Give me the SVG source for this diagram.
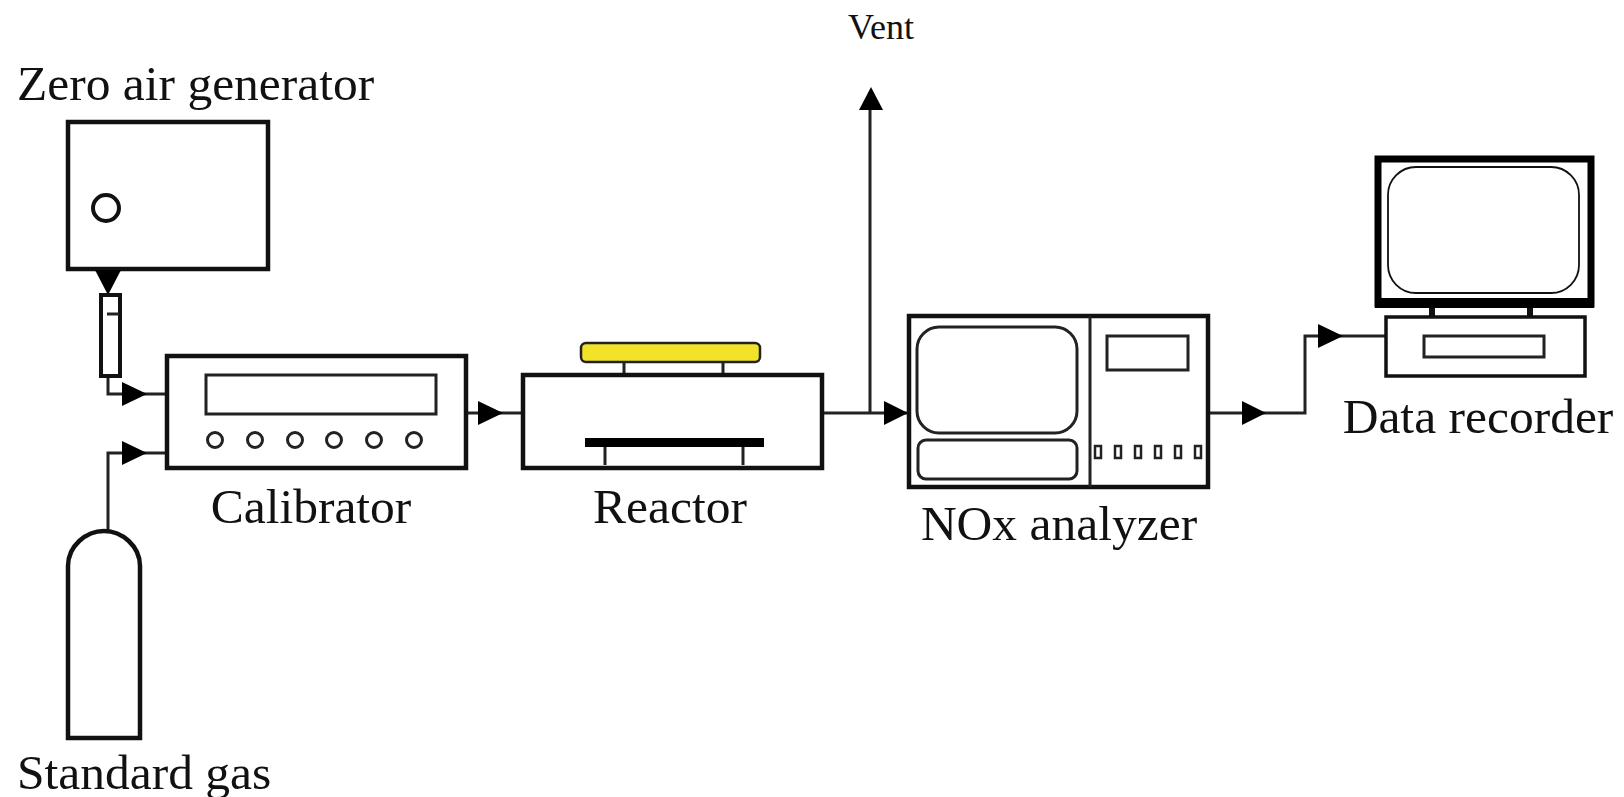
<svg xmlns="http://www.w3.org/2000/svg" width="1624" height="797" viewBox="0 0 1624 797">
<style>
.b{fill:#fff;stroke:#111;stroke-width:4.5}
.m{fill:#fff;stroke:#222;stroke-width:3}
.c{fill:none;stroke:#222;stroke-width:3}
.t{font-family:"Liberation Serif","Times New Roman",serif;fill:#111;font-size:49.5px}
</style>
<rect width="1624" height="797" fill="#fff"/>
<g id="connectors">
<path class="c" d="M108 376V394H167" />
<path class="c" d="M108 531V453H167"/>
<path class="c" d="M466 413H523"/>
<path class="c" d="M822 413H909"/>
<path class="c" d="M870 413V92"/>
<path class="c" d="M1208 413H1305V336H1386"/>
<path d="M122 382L147 394L122 406Z"/>
<path d="M122 441L147 453L122 465Z"/>
<path d="M478 401L503 413L478 425Z"/>
<path d="M884 401L908 413L884 425Z"/>
<path d="M859 110L871 87L883 110Z"/>
<path d="M1242 401L1266 413L1242 425Z"/>
<path d="M1318 324L1343 336L1318 348Z"/>
</g>
<g id="zero-air-generator">
<rect class="b" x="68" y="122" width="200" height="147"/>
<circle cx="106" cy="208" r="13" fill="#fff" stroke="#111" stroke-width="4"/>
<text class="t" x="17" y="100">Zero air generator</text>
</g>
<g id="flowmeter">
<path d="M95 270H121L108 295Z"/>
<rect class="b" x="101" y="295" width="19" height="81" style="stroke-width:4"/>
<path class="c" d="M107 314H119"/>
</g>
<g id="standard-gas">
<path class="b" d="M68 738V566C68 546 86 531 104 531C122 531 140 546 140 566V738Z"/>
<text class="t" x="17" y="789">Standard gas</text>
</g>
<g id="calibrator">
<rect class="b" x="167" y="356" width="299" height="112"/>
<rect class="m" x="206" y="375" width="230" height="39"/>
<g fill="#fff" stroke="#222" stroke-width="3">
<circle cx="215" cy="440" r="7.5"/><circle cx="255" cy="440" r="7.5"/><circle cx="295" cy="440" r="7.5"/><circle cx="334" cy="440" r="7.5"/><circle cx="374" cy="440" r="7.5"/><circle cx="414" cy="440" r="7.5"/>
</g>
<text class="t" x="311" y="523" text-anchor="middle">Calibrator</text>
</g>
<g id="reactor">
<path class="c" d="M624 362V375M723 362V375M605 447V465M743 447V465"/>
<rect x="581" y="343" width="179" height="19" rx="5" fill="#f2e32a" stroke="#222" stroke-width="2.5"/>
<rect class="b" x="523" y="375" width="299" height="93" style="fill:none"/>
<rect x="585" y="438" width="179" height="9" fill="#000"/>
<text class="t" x="670" y="523" text-anchor="middle">Reactor</text>
</g>
<g id="vent-label">
<text class="t" x="881" y="39" text-anchor="middle" style="font-size:36px">Vent</text>
</g>
<g id="nox-analyzer">
<rect class="b" x="909" y="316" width="299" height="171"/>
<path class="c" d="M1090 316V487"/>
<rect class="m" x="917" y="327" width="160" height="106" rx="22"/>
<rect class="m" x="918" y="440" width="159" height="39" rx="8"/>
<rect class="m" x="1107" y="336" width="81" height="34"/>
<g fill="#fff" stroke="#222" stroke-width="2.5">
<rect x="1095" y="446" width="6" height="12"/><rect x="1115" y="446" width="6" height="12"/><rect x="1135" y="446" width="6" height="12"/><rect x="1155" y="446" width="6" height="12"/><rect x="1175" y="446" width="6" height="12"/><rect x="1195" y="446" width="6" height="12"/>
</g>
<text class="t" x="1059" y="540" text-anchor="middle">NOx analyzer</text>
</g>
<g id="data-recorder">
<path d="M1429 306h6v11h-6zM1527 306h6v11h-6z" fill="#111"/>
<rect x="1378" y="159" width="213" height="145" fill="#fff" stroke="#000" stroke-width="7"/>
<rect x="1375" y="298" width="219" height="10" fill="#000"/>
<rect x="1388" y="167" width="191" height="126" rx="28" fill="#fff" stroke="#111" stroke-width="1.8"/>
<rect class="b" x="1386" y="317" width="199" height="59" style="stroke-width:3.5"/>
<rect class="m" x="1424" y="336" width="120" height="21"/>
<text class="t" x="1478" y="433" text-anchor="middle">Data recorder</text>
</g>
</svg>
